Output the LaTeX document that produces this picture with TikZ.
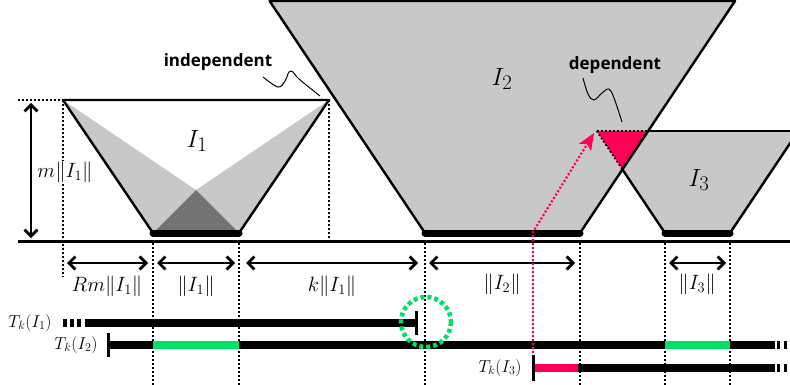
\documentclass[tikz,border=0pt]{standalone}
\usepackage{fontspec}
\newfontfamily\labelfont{Open Sans}
\usetikzlibrary{arrows.meta}
\definecolor{lgray}{RGB}{200,200,200}
\definecolor{dgray}{RGB}{115,115,115}
\definecolor{hotred}{RGB}{255,0,85}
\definecolor{brightgreen}{RGB}{0,225,100}
\tikzset{
  edge/.style={line width=2.4pt, line join=round},
  dotline/.style={line width=1.8pt, dash pattern=on 1.8pt off 2.2pt},
  basebar/.style={line width=7pt, line cap=round},
  meas/.style={line width=2.4pt, {Straight Barb[length=6.5pt,width=13pt,line width=2.8pt]}-{Straight Barb[length=6.5pt,width=13pt,line width=2.8pt]}},
  tbar/.style={line width=7.5pt},
  tickmark/.style={line width=3pt},
  mathlbl/.style={font=\fontsize{21}{23}\selectfont, inner sep=0pt},
  tlbl/.style={font=\fontsize{18}{20}\selectfont, inner sep=0pt},
  biglbl/.style={font=\fontsize{29}{31}\selectfont, inner sep=0pt},
  wordlbl/.style={font=\labelfont\bfseries\fontsize{17}{19}\selectfont, inner sep=0pt, anchor=base},
  squiggle/.style={line width=1pt},
}
\begin{document}
\begin{tikzpicture}[x=1pt,y=-1pt]
\useasboundingbox (0,0) rectangle (790,385);
% ---------- I2 and I3 fills
\fill[lgray] (269.6,1) -- (735,1) -- (580,233) -- (425,233) -- cycle;
\fill[lgray] (596.7,131) -- (798.3,131) -- (730,233) -- (665,233) -- cycle;
\fill[hotred] (596.7,131) -- (648,131) -- (622.5,169.6) -- cycle;
% I2 outline
\draw[edge] (269.6,1) -- (735,1) -- (580,233) -- (425,233) -- cycle;
% I3 visible edges
\draw[edge] (648,131) -- (800,131);
\draw[edge] (622.5,169.6) -- (665,233) -- (730,233) -- (798.3,131);
\draw[dotline] (596.7,131) -- (648,131);
\draw[dotline] (596.7,131) -- (622.5,169.6);
% ---------- I1
\fill[lgray] (63,100) -- (196,190) -- (153,233) -- cycle;
\fill[lgray] (329,100) -- (196,190) -- (239,233) -- cycle;
\fill[dgray] (196,190) -- (153,233) -- (239,233) -- cycle;
\draw[edge] (63,100) -- (329,100) -- (239,233) -- (153,233) -- cycle;
% base bars
\draw[basebar] (153,233) -- (239,233);
\draw[basebar] (425,233) -- (580,233);
\draw[basebar] (665,233) -- (730,233);
% ground
\draw[line width=2.5pt] (18,241.5) -- (790,241.5);
% ---------- dotted guides
\draw[dotline] (18,100) -- (63,100);
\draw[dotline] (63,100) -- (63,277);
\draw[dotline] (329,100) -- (329,240);
\foreach \xx in {153,239,425,580,665,730}{
  \draw[dotline] (\xx,243) -- (\xx,385);
}
% ---------- height arrow
\coordinate (htop) at (31,103);
\coordinate (hbot) at (31,238);
\draw[meas] (htop) -- (hbot);
\node[mathlbl, fill=white, inner sep=1pt] (hlbl) at (65,172) {$m\|I_1\|$};
% ---------- measure arrows
\coordinate (a0) at (67,263); \coordinate (a1) at (148,263);
\coordinate (b0) at (157,263); \coordinate (b1) at (235,263);
\coordinate (c0) at (246,263); \coordinate (c1) at (418,263);
\coordinate (d0) at (429,263); \coordinate (d1) at (575,263);
\coordinate (e0) at (669,263); \coordinate (e1) at (726,263);
\draw[meas] (a0) -- (a1);
\draw[meas] (b0) -- (b1);
\draw[meas] (c0) -- (c1);
\draw[meas] (d0) -- (d1);
\draw[meas] (e0) -- (e1);
\node[mathlbl] (la) at (107,286) {$Rm\|I_1\|$};
\node[mathlbl] (lb) at (196,286) {$\|I_1\|$};
\node[mathlbl] (lc) at (332,286) {$k\|I_1\|$};
\node[mathlbl] (ld) at (502,284) {$\|I_2\|$};
\node[mathlbl] (le) at (697,284) {$\|I_3\|$};
% ---------- big labels
\node[biglbl] (n1) at (197,141) {$I_1$};
\node[biglbl] (n2) at (502,79) {$I_2$};
\node[biglbl] (n3) at (699,180) {$I_3$};
% ---------- words and squiggles
\node[wordlbl] (indep) at (218,67) {independent};
\node[wordlbl] (dep) at (615,70) {dependent};
\draw[squiggle] plot[smooth, tension=0.6] coordinates {(263,77) (278,87) (285,81) (289,72) (293,72) (299,79) (320,96)};
\draw[squiggle] plot[smooth, tension=0.6] coordinates {(583,78) (588,94) (594,100) (602,93) (609,89) (614,98) (622,122)};
% ---------- timelines
% T_k(I1)
\node[tlbl] (t1) at (30,323) {$T_k(I_1)$};
\draw[tbar] (85,323) -- (416,323);
\draw[tbar, dash pattern=on 4pt off 3pt] (63,323) -- (83,323);
\draw[tickmark] (416,311) -- (416,335);
% T_k(I2)
\node[tlbl] (t2) at (76,345) {$T_k(I_2)$};
\draw[tbar] (108,345) -- (775,345);
\draw[tbar] (777,345) -- (780,345);
\draw[tbar] (784,345) -- (787,345);
\draw[tbar, brightgreen] (153,345) -- (239,345);
\draw[tbar, brightgreen] (665,345) -- (730,345);
\draw[tickmark] (108,333) -- (108,357);
% T_k(I3)
\node[tlbl] (t3) at (500,368) {$T_k(I_3)$};
\draw[tbar] (533,368) -- (775,368);
\draw[tbar] (777,368) -- (780,368);
\draw[tbar] (784,368) -- (787,368);
\draw[tbar, hotred] (535,368) -- (578,368);
\draw[tickmark] (533,355) -- (533,381);
% ---------- red dependency arrow
\coordinate (rstart) at (533,353);
\coordinate (rbend) at (533,232);
\coordinate (rtip) at (594,133);
\draw[hotred, line width=2.2pt, dash pattern=on 2pt off 2pt, -{Stealth[length=17pt,width=14pt,inset=4pt]}] (rstart) -- (rbend) -- (rtip);
% ---------- green circle
\draw[brightgreen, line width=4.5pt, dash pattern=on 4pt off 3pt] (426,322) circle (25);
\end{tikzpicture}
\end{document}
